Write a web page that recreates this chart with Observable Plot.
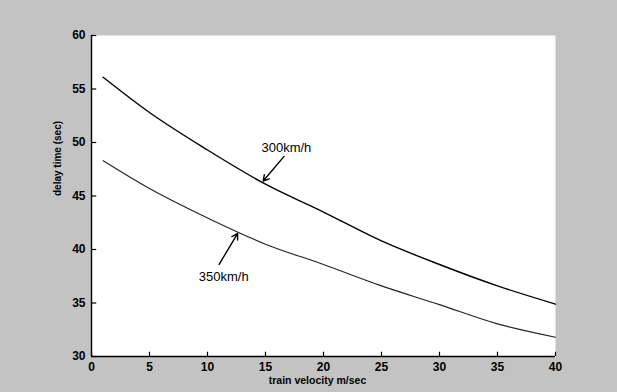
<!DOCTYPE html>
<html>
<head>
<meta charset="utf-8">
<script src="https://cdn.jsdelivr.net/npm/d3@7"></script>
<script src="https://cdn.jsdelivr.net/npm/@observablehq/plot@0.6"></script>
<style>
  html, body { margin: 0; padding: 0; background: #c3c3c3; }
  #chart svg { display: block; }
</style>
</head>
<body>
<div id="chart"></div>
<script>
// Train velocity (m/sec) against delay time (sec) for two line speeds
const velocity = [1, 5, 10, 15, 20, 25, 30, 35, 40];
const delay300 = [56.1, 52.8, 49.3, 46.1, 43.5, 40.8, 38.6, 36.6, 34.9];
const delay350 = [48.3, 45.7, 42.95, 40.5, 38.6, 36.6, 34.85, 33.05, 31.8];

const xTicks = [0, 5, 10, 15, 20, 25, 30, 35, 40];
const yTicks = [30, 35, 40, 45, 50, 55, 60];

// Curve callouts: label position, arrow tail and arrow head (data units)
const calloutText = ["300km/h", "350km/h"];
const calloutX = [16.8, 11.4];
const calloutY = [49.5, 37.4];
const arrowFromX = [16.6, 11.0];
const arrowFromY = [48.7, 38.6];
const arrowToX = [14.8, 12.6];
const arrowToY = [46.4, 41.5];

const rows300 = velocity.map((v, i) => ({v, d: delay300[i]}));
const rows350 = velocity.map((v, i) => ({v, d: delay350[i]}));
const callouts = calloutText.map((t, i) => ({
  t, x: calloutX[i], y: calloutY[i],
  x1: arrowFromX[i], y1: arrowFromY[i], x2: arrowToX[i], y2: arrowToY[i]
}));

const tickLen = 0.4;   // inward tick length in y units
const tickLenX = 0.45; // inward tick length in x units

const chart = Plot.plot({
  width: 617,
  height: 392,
  marginLeft: 91,
  marginRight: 62,
  marginTop: 35,
  marginBottom: 36,
  style: {background: "#c3c3c3", fontFamily: "'Liberation Sans', Arial, sans-serif", color: "black"},
  x: {domain: [0, 40], axis: null},
  y: {domain: [30, 60], axis: null},
  marks: [
    Plot.frame({fill: "white", stroke: "none"}),
    // tick labels
    Plot.text(xTicks, {x: d => d, y: 30, dy: 10.5, text: d => String(d), fontSize: 12, fontWeight: "bold", fill: "black"}),
    Plot.text(yTicks, {x: 0, y: d => d, dx: -6, textAnchor: "end", text: d => String(d), fontSize: 12, fontWeight: "bold", fill: "black"}),
    // inward tick marks
    Plot.ruleX(xTicks, {x: d => d, y1: 30, y2: 30 + tickLen, stroke: "black", strokeWidth: 1.2}),
    Plot.ruleY(yTicks, {y: d => d, x1: 0, x2: tickLenX, stroke: "black", strokeWidth: 1.2}),
    Plot.ruleX([0], {stroke: "black", strokeWidth: 1.4}),
    Plot.ruleY([30], {stroke: "black", strokeWidth: 1.4}),
    Plot.line(rows300, {x: "v", y: "d", curve: "monotone-x", stroke: "black", strokeWidth: 1.4}),
    Plot.line(rows350, {x: "v", y: "d", curve: "monotone-x", stroke: "#222", strokeWidth: 1.1}),
    Plot.arrow(callouts, {x1: "x1", y1: "y1", x2: "x2", y2: "y2", stroke: "black", strokeWidth: 1.4, headLength: 7}),
    Plot.text(callouts, {x: "x", y: "y", text: "t", fontSize: 13, fill: "black", letterSpacing: "-0.5px"}),
    Plot.text(["delay time (sec)"], {frameAnchor: "left", dx: -34, rotate: -90, fontSize: 10, fontWeight: "bold", fill: "black"}),
    Plot.text(["train velocity m/sec"], {frameAnchor: "bottom", dx: -6, dy: 27.5, fontSize: 10.5, fontWeight: "bold", fill: "black"})
  ]
});

document.getElementById("chart").append(chart);
</script>
</body>
</html>
